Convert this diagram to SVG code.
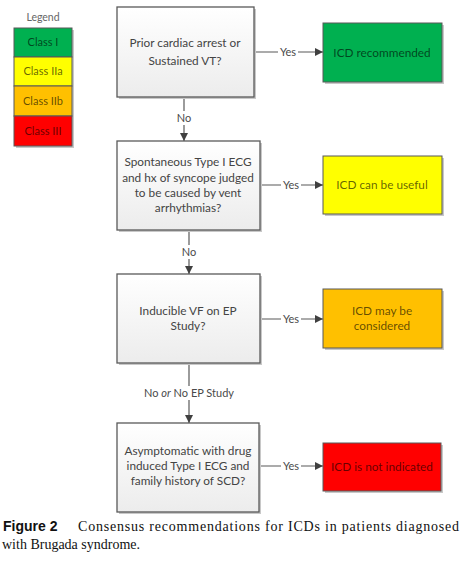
<svg xmlns="http://www.w3.org/2000/svg" width="464" height="566" viewBox="0 0 464 566">
<defs>
<linearGradient id="g" x1="0" y1="0" x2="0" y2="1">
<stop offset="0" stop-color="#ffffff"/>
<stop offset="1" stop-color="#ececec"/>
</linearGradient>
<marker id="ah" viewBox="0 0 10 10" refX="10" refY="5" markerWidth="8" markerHeight="8" markerUnits="userSpaceOnUse" orient="auto">
<path d="M0,0 L10,5 L0,10 z" fill="#404040"/>
</marker>
</defs>
<style>
.dec{fill:url(#g);stroke:#595959;stroke-width:1.3}
.res{stroke:#595959;stroke-width:1}
.sh{fill:#c8c8c8}
.t{font-family:Lato,"Liberation Sans",sans-serif;font-size:11.8px;fill:#444;text-anchor:middle}
.rt{font-family:Lato,"Liberation Sans",sans-serif;font-size:11.8px;fill:#000;fill-opacity:.62;text-anchor:middle}
.lg{font-family:Lato,"Liberation Sans",sans-serif;font-size:11px;fill:#000;fill-opacity:.62;text-anchor:middle}
.lbl{font-family:Lato,"Liberation Sans",sans-serif;font-size:11px;fill:#4a4a4a;text-anchor:middle}
.ln{stroke:#595959;stroke-width:1.2;fill:none}
.lb{fill:#ffffff}
.cap{font-family:"Liberation Serif",serif;font-size:14px;fill:#111}
.capb{font-family:"Liberation Sans",sans-serif;font-size:14px;font-weight:bold;fill:#111}
</style>

<g id="legend">
<text x="43" y="21" class="lbl" style="font-size:10.5px;fill:#666">Legend</text>
<rect x="16" y="30" width="58" height="118" class="sh"/>
<rect x="14" y="28" width="58" height="29" fill="#00b050" class="res"/>
<rect x="14" y="57" width="58" height="29" fill="#ffff00" class="res"/>
<rect x="14" y="86" width="58" height="30" fill="#ffc000" class="res"/>
<rect x="14" y="116" width="58" height="30" fill="#ff0000" class="res"/>
<text x="43" y="46" class="lg">Class I</text>
<text x="43" y="75" class="lg">Class IIa</text>
<text x="43" y="105" class="lg">Class IIb</text>
<text x="43" y="135" class="lg">Class III</text>
</g>

<g id="connectors">
<line x1="254" y1="52" x2="323" y2="52" class="ln" marker-end="url(#ah)"/>
<rect x="278" y="45" width="20" height="14" class="lb"/>
<text x="288" y="56" class="lbl">Yes</text>
<line x1="184" y1="97" x2="184" y2="141" class="ln" marker-end="url(#ah)"/>
<rect x="176" y="111" width="16" height="14" class="lb"/>
<text x="184" y="122" class="lbl">No</text>

<line x1="260" y1="185" x2="323" y2="185" class="ln" marker-end="url(#ah)"/>
<rect x="281" y="178" width="20" height="14" class="lb"/>
<text x="291" y="189" class="lbl">Yes</text>
<line x1="189" y1="230" x2="189" y2="274" class="ln" marker-end="url(#ah)"/>
<rect x="181" y="245" width="16" height="14" class="lb"/>
<text x="189" y="256" class="lbl">No</text>

<line x1="260" y1="319" x2="323" y2="319" class="ln" marker-end="url(#ah)"/>
<rect x="281" y="312" width="20" height="14" class="lb"/>
<text x="291" y="323" class="lbl">Yes</text>
<line x1="189" y1="363" x2="189" y2="423" class="ln" marker-end="url(#ah)"/>
<rect x="138" y="386" width="102" height="14" class="lb"/>
<text x="189" y="397" class="lbl">No <tspan font-style="italic">or</tspan> No EP Study</text>

<line x1="259" y1="466" x2="323" y2="466" class="ln" marker-end="url(#ah)"/>
<rect x="281" y="459" width="20" height="14" class="lb"/>
<text x="291" y="470" class="lbl">Yes</text>
</g>

<g id="q1">
<rect x="119" y="9" width="137" height="90" class="sh"/>
<rect x="117" y="7" width="137" height="90" class="dec"/>
<text x="185" y="47" class="t">Prior cardiac arrest or</text>
<text x="185" y="65" class="t">Sustained VT?</text>
</g>
<g id="r1">
<rect x="325" y="25" width="119" height="59" class="sh"/>
<rect x="323" y="23" width="119" height="59" fill="#00b050" class="res"/>
<text x="382" y="57" class="rt">ICD recommended</text>
</g>

<g id="q2">
<rect x="119" y="143" width="143" height="89" class="sh"/>
<rect x="117" y="141" width="143" height="89" class="dec"/>
<text x="188" y="166" class="t">Spontaneous Type I ECG</text>
<text x="188" y="182" class="t">and hx of syncope judged</text>
<text x="188" y="197" class="t">to be caused by vent</text>
<text x="188" y="212" class="t">arrhythmias?</text>
</g>
<g id="r2">
<rect x="325" y="158" width="119" height="58" class="sh"/>
<rect x="323" y="156" width="119" height="58" fill="#ffff00" class="res"/>
<text x="382" y="189" class="rt">ICD can be useful</text>
</g>

<g id="q3">
<rect x="119" y="276" width="143" height="89" class="sh"/>
<rect x="117" y="274" width="143" height="89" class="dec"/>
<text x="188" y="315" class="t">Inducible VF on EP</text>
<text x="188" y="330" class="t">Study?</text>
</g>
<g id="r3">
<rect x="325" y="291" width="119" height="59" class="sh"/>
<rect x="323" y="289" width="119" height="59" fill="#ffc000" class="res"/>
<text x="382" y="315" class="rt">ICD may be</text>
<text x="382" y="330" class="rt">considered</text>
</g>

<g id="q4">
<rect x="119" y="425" width="142" height="89" class="sh"/>
<rect x="117" y="423" width="142" height="89" class="dec"/>
<text x="188" y="455" class="t">Asymptomatic with drug</text>
<text x="188" y="470" class="t">induced Type I ECG  and</text>
<text x="188" y="485" class="t">family history of SCD?</text>
</g>
<g id="r4">
<rect x="325" y="445" width="118" height="48" class="sh"/>
<rect x="323" y="443" width="118" height="48" fill="#ff0000" class="res"/>
<text x="382" y="471" class="rt">ICD is not indicated</text>
</g>

<g id="caption">
<text x="3" y="531" class="capb">Figure 2</text>
<text x="78" y="531" class="cap" textLength="381" lengthAdjust="spacing">Consensus recommendations for ICDs in patients diagnosed</text>
<text x="2" y="549" class="cap">with Brugada syndrome.</text>
</g>
</svg>
